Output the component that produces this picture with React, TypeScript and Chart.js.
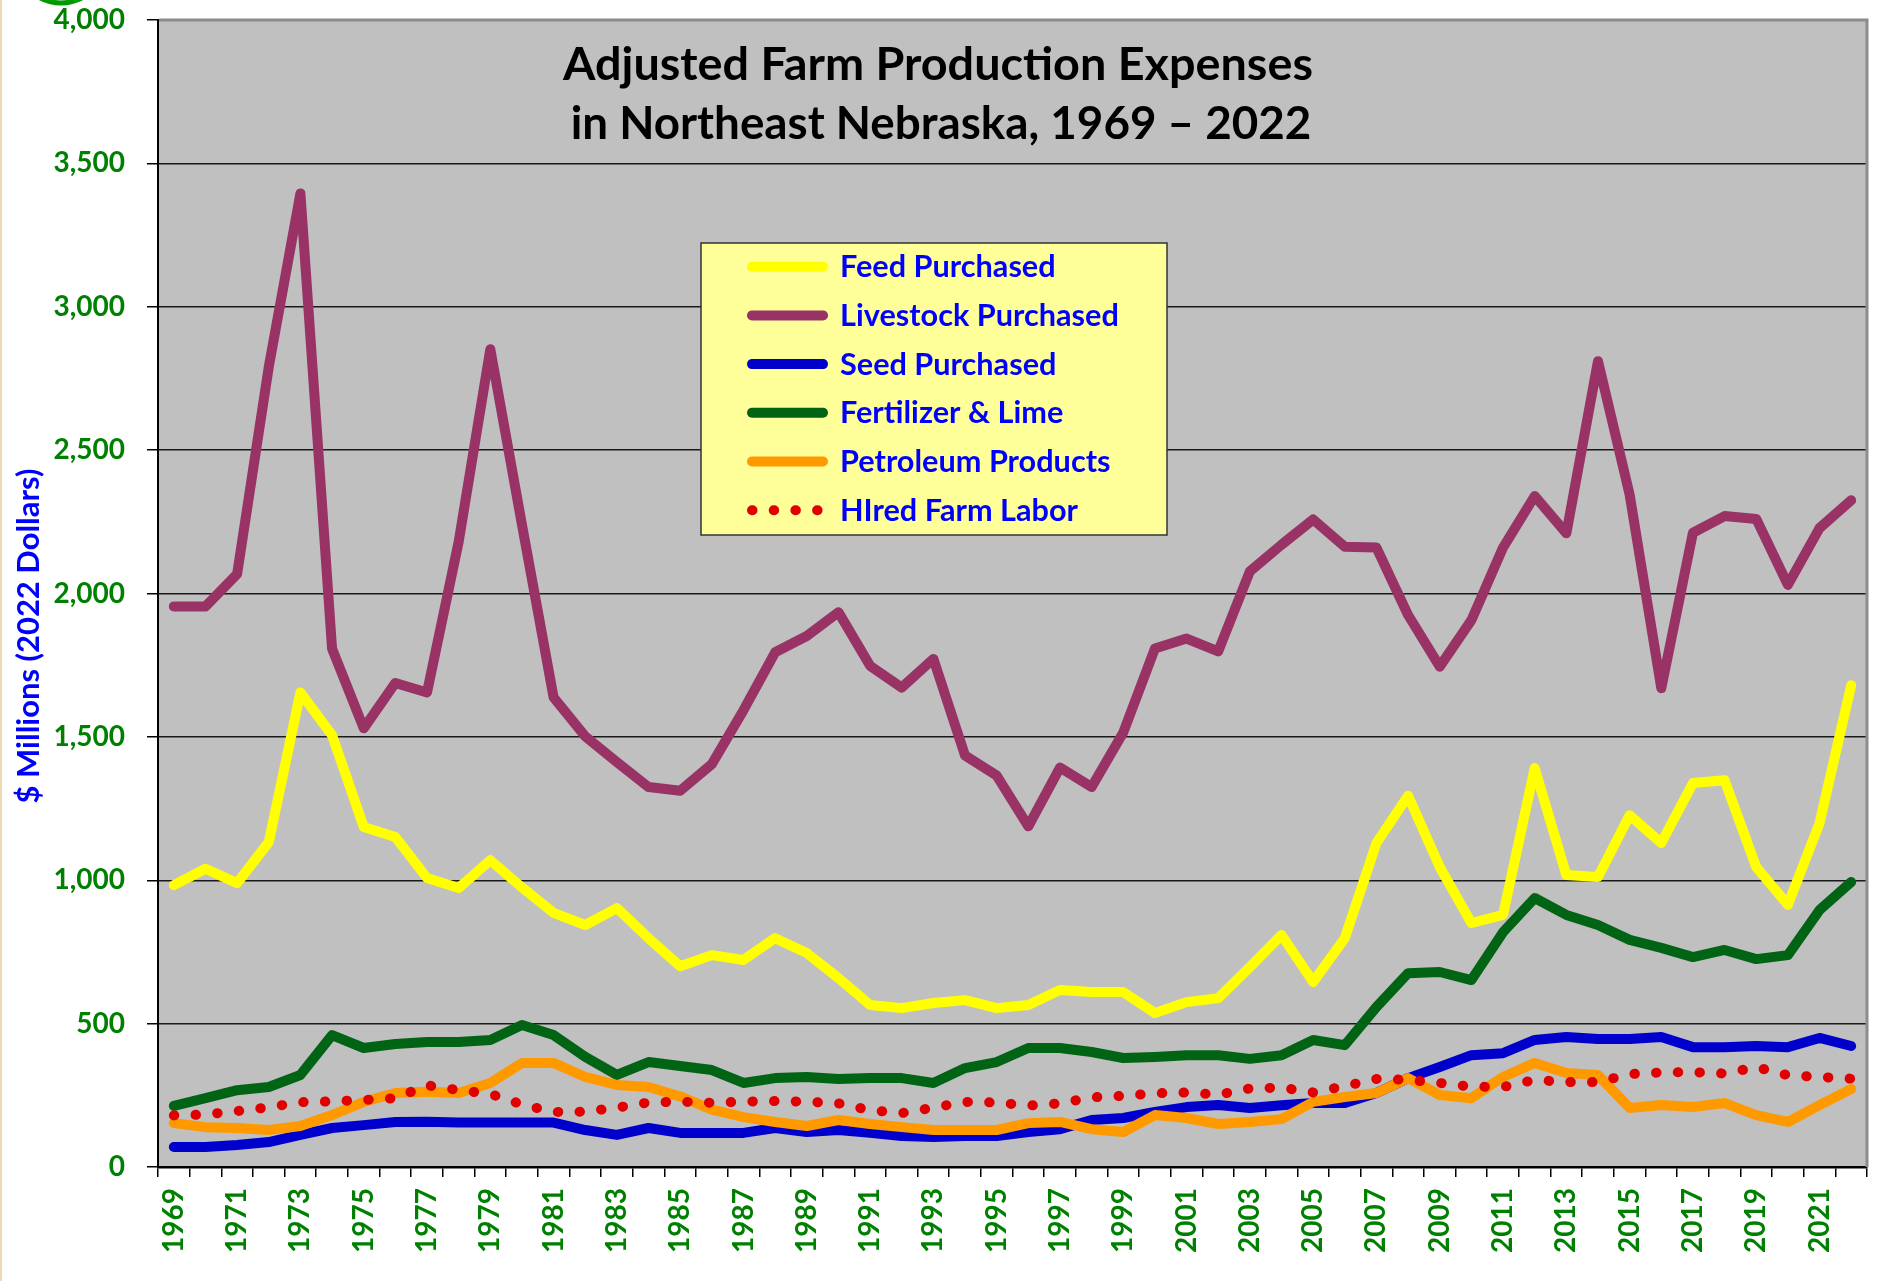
import React, { useEffect, useRef } from 'react';
import { Chart, registerables } from 'chart.js';

Chart.register(...registerables);

const years = [
  '1969', '1970', '1971', '1972', '1973', '1974', '1975', '1976', '1977', '1978',
  '1979', '1980', '1981', '1982', '1983', '1984', '1985', '1986', '1987', '1988',
  '1989', '1990', '1991', '1992', '1993', '1994', '1995', '1996', '1997', '1998',
  '1999', '2000', '2001', '2002', '2003', '2004', '2005', '2006', '2007', '2008',
  '2009', '2010', '2011', '2012', '2013', '2014', '2015', '2016', '2017', '2018',
  '2019', '2020', '2021', '2022',
];

const feedPurchased = [
  983, 1040, 990, 1133, 1655, 1506, 1186, 1151, 1008, 973,
  1070, 975, 886, 844, 903, 798, 700, 739, 722, 798,
  746, 659, 565, 554, 572, 582, 554, 565, 617, 610,
  610, 537, 575, 589, 697, 809, 645, 798, 1130, 1295,
  1046, 851, 879, 1391, 1018, 1011, 1227, 1130, 1339, 1349,
  1046, 914, 1199, 1680,
];

const livestockPurchased = [
  1955, 1955, 2068, 2790, 3395, 1808, 1530, 1688, 1655, 2180,
  2852, 2240, 1638, 1502, 1412, 1325, 1312, 1405, 1593, 1795,
  1852, 1935, 1748, 1672, 1772, 1435, 1365, 1188, 1393, 1325,
  1515, 1808, 1843, 1798, 2077, 2170, 2258, 2163, 2160, 1925,
  1745, 1907, 2160, 2340, 2210, 2810, 2345, 1670, 2212, 2270,
  2260, 2030, 2228, 2325,
];

const seedPurchased = [
  70, 70, 77, 87, 112, 136, 146, 157, 158, 155,
  155, 155, 155, 129, 112, 136, 119, 119, 119, 136,
  122, 129, 119, 108, 105, 108, 108, 122, 132, 164,
  171, 192, 209, 216, 206, 215, 223, 223, 258, 310,
  349, 390, 397, 443, 453, 446, 446, 453, 418, 418,
  422, 418, 450, 422,
];

const fertilizerLime = [
  213, 240, 268, 279, 321, 460, 415, 429, 436, 436,
  443, 495, 460, 384, 321, 366, 352, 338, 293, 310,
  314, 307, 310, 310, 293, 345, 366, 415, 415, 401,
  380, 384, 390, 390, 377, 390, 443, 425, 558, 676,
  680, 652, 819, 938, 879, 844, 792, 764, 732, 757,
  725, 739, 896, 994,
];

const petroleumProducts = [
  153, 139, 136, 129, 143, 181, 227, 258, 262, 258,
  293, 363, 363, 314, 286, 279, 246, 200, 174, 157,
  143, 164, 150, 139, 129, 129, 129, 153, 157, 132,
  122, 181, 171, 150, 157, 167, 227, 244, 258, 310,
  251, 240, 314, 363, 328, 321, 206, 216, 209, 223,
  181, 157, 216, 272,
];

const hiredFarmLabor = [
  180, 183, 195, 208, 226, 229, 234, 240, 285, 268,
  255, 218, 192, 193, 207, 225, 228, 224, 228, 230,
  228, 222, 198, 188, 207, 227, 225, 214, 222, 243,
  248, 257, 260, 252, 274, 277, 260, 282, 307, 304,
  293, 280, 279, 304, 296, 296, 324, 330, 331, 326,
  348, 320, 314, 308,
];

const seriesNames = [
  'Feed Purchased',
  'Livestock Purchased',
  'Seed Purchased',
  'Fertilizer & Lime',
  'Petroleum Products',
  'HIred Farm Labor',
];
const seriesColors = ['#FFFF00', '#993366', '#0000CC', '#006414', '#FF9900', '#E00000'];
const seriesValues = [
  feedPurchased,
  livestockPurchased,
  seedPurchased,
  fertilizerLime,
  petroleumProducts,
  hiredFarmLabor,
];

const titleLines = ['Adjusted Farm Production Expenses', 'in Northeast Nebraska, 1969 \u2013 2022'];
const yAxisTitle = '$ Millions (2022 Dollars)';

const FONT = 'Lato, "Open Sans", "DejaVu Sans", sans-serif';
const DOT_DASH = [0.5, 21.2];

function fitSize(ctx: CanvasRenderingContext2D, text: string, target: number, base: number) {
  ctx.font = `bold ${base}px ${FONT}`;
  const w = ctx.measureText(text).width;
  return (base * target) / w;
}

const decorPlugin = {
  id: 'decor',
  beforeDraw(chart: any) {
    const { ctx, chartArea: a, width, height } = chart;
    ctx.save();
    ctx.fillStyle = '#FFFFFF';
    ctx.fillRect(0, 0, width, height);
    ctx.fillStyle = '#C0C0C0';
    ctx.fillRect(a.left, a.top, a.right - a.left, a.bottom - a.top);
    ctx.fillStyle = '#EED9B0';
    ctx.fillRect(0, 0, 2, height);
    ctx.beginPath();
    ctx.arc(61, -41, 44, 0, Math.PI * 2);
    ctx.strokeStyle = '#009A00';
    ctx.lineWidth = 5;
    ctx.stroke();
    ctx.restore();
  },
  beforeDatasetsDraw(chart: any) {
    const { ctx, chartArea: a } = chart;
    ctx.save();
    ctx.strokeStyle = '#8C8C8C';
    ctx.lineWidth = 3;
    ctx.beginPath();
    ctx.moveTo(a.left + 1, a.top);
    ctx.lineTo(a.right, a.top);
    ctx.lineTo(a.right, a.bottom);
    ctx.stroke();
    ctx.restore();
  },
  afterDatasetsDraw(chart: any) {
    const { ctx } = chart;
    ctx.save();

    // Title inside plot area
    ctx.fillStyle = '#000000';
    ctx.textAlign = 'center';
    ctx.textBaseline = 'alphabetic';
    const t1 = fitSize(ctx, titleLines[0], 750, 40);
    ctx.font = `bold ${t1}px ${FONT}`;
    ctx.fillText(titleLines[0], 938, 80);
    const t2 = fitSize(ctx, titleLines[1], 741, 40);
    ctx.font = `bold ${t2}px ${FONT}`;
    ctx.fillText(titleLines[1], 941, 139);

    // Legend box
    const bx = 701, by = 243, bw = 466, bh = 292;
    ctx.fillStyle = '#FFFF99';
    ctx.fillRect(bx, by, bw, bh);
    ctx.strokeStyle = '#333333';
    ctx.lineWidth = 1.5;
    ctx.strokeRect(bx, by, bw, bh);
    const lSize = fitSize(ctx, 'Livestock Purchased', 279, 30);
    chart.data.datasets.forEach((ds: any, i: number) => {
      const rowY = 266.7 + i * 48.7;
      ctx.save();
      ctx.strokeStyle = ds.borderColor;
      ctx.lineWidth = 10;
      ctx.lineCap = 'round';
      ctx.beginPath();
      if (ds.borderDash && ds.borderDash.length) {
        ctx.setLineDash(DOT_DASH);
        ctx.moveTo(752, rowY);
        ctx.lineTo(820, rowY);
      } else {
        ctx.moveTo(752, rowY);
        ctx.lineTo(823, rowY);
      }
      ctx.stroke();
      ctx.restore();
      ctx.font = `bold ${lSize}px ${FONT}`;
      ctx.fillStyle = '#0000FF';
      ctx.textAlign = 'left';
      ctx.textBaseline = 'alphabetic';
      ctx.fillText(ds.label, 840, rowY + 0.34 * lSize);
    });

    // Y axis title
    const ySize = fitSize(ctx, yAxisTitle, 335, 27);
    ctx.save();
    ctx.translate(29, 636);
    ctx.rotate(-Math.PI / 2);
    ctx.font = `bold ${ySize}px ${FONT}`;
    ctx.fillStyle = '#0000FF';
    ctx.textAlign = 'center';
    ctx.textBaseline = 'middle';
    ctx.fillText(yAxisTitle, 0, 0);
    ctx.restore();

    ctx.restore();
  },
};

export default function App() {
  const canvasRef = useRef<HTMLCanvasElement | null>(null);

  useEffect(() => {
    let chart: Chart | null = null;
    let cancelled = false;
    const make = () => {
      if (cancelled || !canvasRef.current) return;
      const datasets = seriesNames.map((name, i) => {
        const dotted = i === 5;
        return {
          label: name,
          data: seriesValues[i],
          borderColor: seriesColors[i],
          backgroundColor: seriesColors[i],
          borderWidth: 10,
          pointRadius: 0,
          pointHoverRadius: 0,
          tension: 0,
          fill: false,
          borderJoinStyle: 'round' as const,
          borderCapStyle: 'round' as const,
          borderDash: dotted ? DOT_DASH : [],
          order: 6 - i,
        };
      });
      chart = new Chart(canvasRef.current, {
        type: 'line',
        data: { labels: years, datasets },
        options: {
          animation: false,
          responsive: false,
          maintainAspectRatio: false,
          layout: { padding: { left: 0, top: 20, right: 20, bottom: 0 } },
          plugins: {
            legend: { display: false },
            title: { display: false },
            tooltip: { enabled: false },
          },
          scales: {
            x: {
              type: 'category',
              offset: true,
              afterFit: (scale: any) => {
                scale.height = 114;
                scale.paddingLeft = 0;
                scale.paddingRight = 0;
                scale.paddingTop = 0;
                scale.paddingBottom = 0;
              },
              grid: {
                display: true,
                drawOnChartArea: false,
                drawTicks: true,
                tickLength: 10,
                offset: true,
                color: '#000000',
                lineWidth: 1.5,
              },
              border: { display: true, color: '#000000', width: 2.5 },
              ticks: {
                autoSkip: false,
                maxRotation: 90,
                minRotation: 90,
                padding: 11,
                color: '#008000',
                font: { family: FONT, weight: 'bold', size: 28 },
                callback: (_v: any, i: number) => (i % 2 === 0 ? years[i] : ''),
              },
            },
            y: {
              min: 0,
              max: 4000,
              afterFit: (scale: any) => {
                scale.width = 158;
                scale.paddingLeft = 0;
                scale.paddingRight = 0;
                scale.paddingTop = 0;
                scale.paddingBottom = 0;
              },
              grid: {
                color: (c: any) => (c.tick && c.tick.value === 4000 ? 'rgba(0,0,0,0)' : '#1A1A1A'),
                tickColor: '#000000',
                lineWidth: 1.5,
                tickLength: 11,
              },
              border: { display: true, color: '#000000', width: 2 },
              ticks: {
                stepSize: 500,
                padding: 22,
                color: '#008000',
                font: { family: FONT, weight: 'bold', size: 28 },
                callback: (v: any) => Number(v).toLocaleString('en-US'),
              },
            },
          },
        },
        plugins: [decorPlugin],
      } as any);
    };
    const fontsApi: any = (document as any).fonts;
    if (fontsApi && fontsApi.load) {
      Promise.all([fontsApi.load(`bold 28px Lato`)]).then(make, make);
    } else {
      make();
    }
    return () => {
      cancelled = true;
      if (chart) chart.destroy();
    };
  }, []);

  return (
    <div style={{ position: 'fixed', left: 0, top: 0, width: 1887, height: 1281, background: '#FFFFFF' }}>
      <canvas ref={canvasRef} width={1887} height={1281} style={{ display: 'block' }} />
    </div>
  );
}
